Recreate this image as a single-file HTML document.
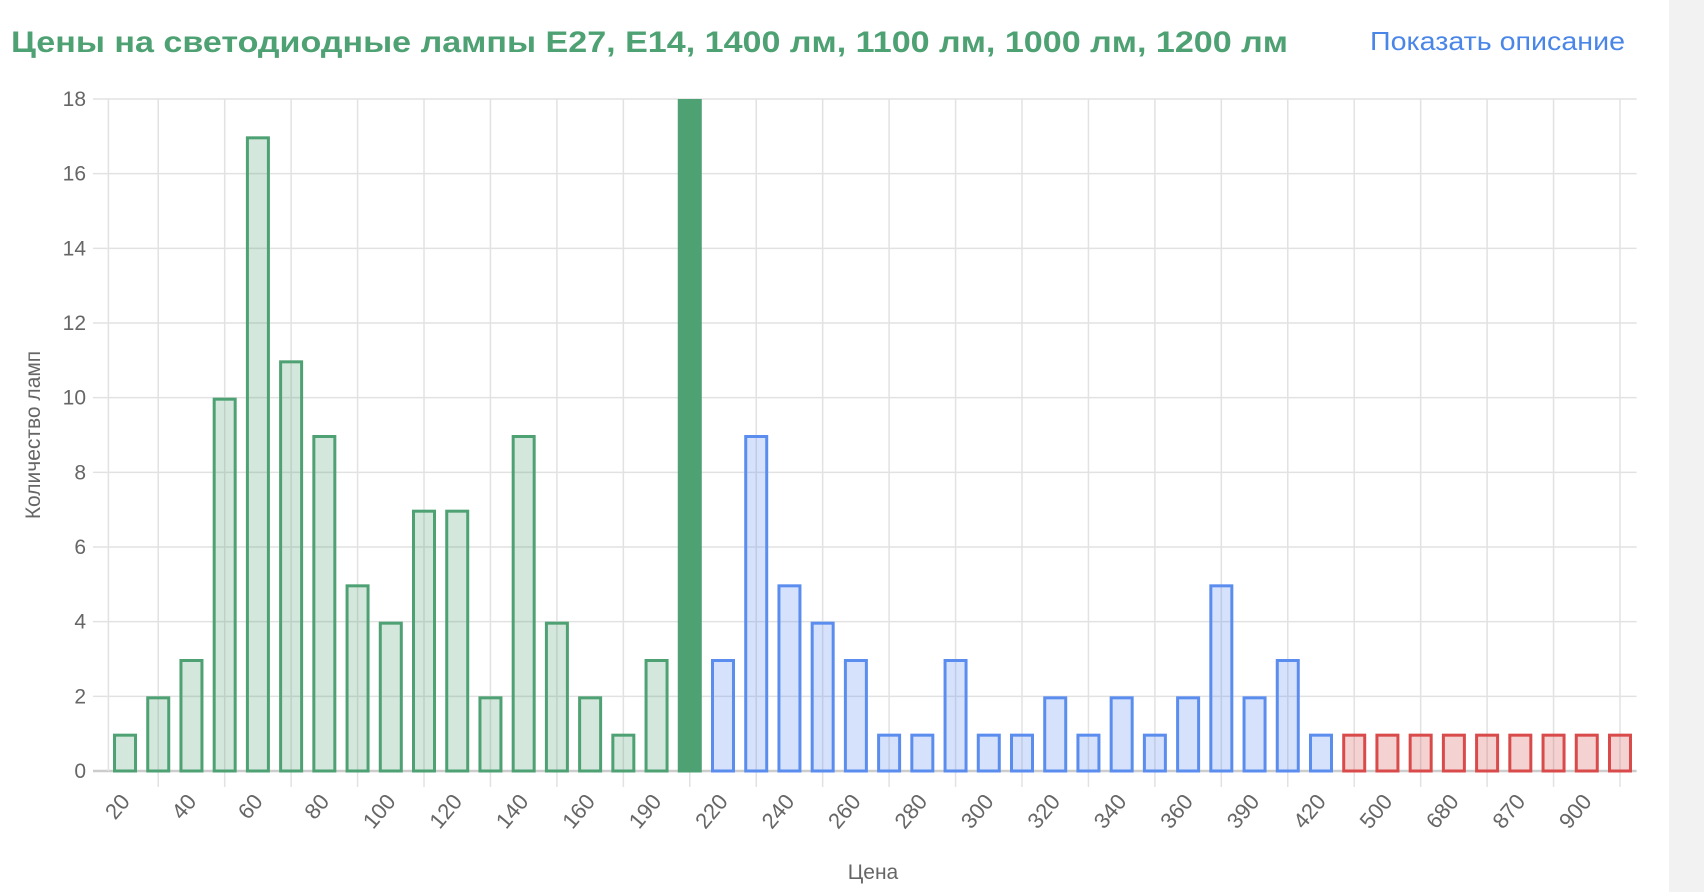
<!DOCTYPE html>
<html><head><meta charset="utf-8"><style>
html,body{margin:0;padding:0;background:#fff;}
body{width:1704px;height:892px;overflow:hidden;position:relative;font-family:"Liberation Sans",sans-serif;}
</style></head><body>
<div style="position:absolute;left:1669px;top:0;width:35px;height:892px;background:#f2f2f2"></div>
<svg width="1704" height="892" style="position:absolute;left:0;top:0" font-family="Liberation Sans, sans-serif">
<text x="11" y="52" font-size="30" font-weight="bold" fill="#4ea173" textLength="1277" lengthAdjust="spacingAndGlyphs">Цены на светодиодные лампы E27, E14, 1400 лм, 1100 лм, 1000 лм, 1200 лм</text>
<text x="1370" y="50" font-size="26" fill="#4a86e8" textLength="255" lengthAdjust="spacingAndGlyphs">Показать описание</text>
<g id="g"></g>
<text x="873" y="879" font-size="21" fill="#666" text-anchor="middle">Цена</text>
<text transform="translate(40,435) rotate(-90)" font-size="21" fill="#666" text-anchor="middle">Количество ламп</text>
</svg>
<script>
var vals=[1,2,3,10,17,11,9,5,4,7,7,2,9,4,2,1,3,18,3,9,5,4,3,1,1,3,1,1,2,1,2,1,2,5,2,3,1,1,1,1,1,1,1,1,1,1];
var labels=["20","40","60","80","100","120","140","160","190","220","240","260","280","300","320","340","360","390","420","500","680","870","900"];
var L=108.4,R=1636.6,Y0=771,Y18=99,sp=(R-L)/46,u=(Y0-Y18)/18;
var s='';
for(var k=0;k<=18;k+=2){var y=Y0-k*u;s+='<line x1="93" x2="'+R+'" y1="'+y+'" y2="'+y+'" stroke="'+(k==0?'#ccc':'#e2e2e2')+'" stroke-width="'+(k==0?2.5:1.5)+'"/>';
s+='<text x="86" y="'+(y+7)+'" font-size="21" fill="#666" text-anchor="end">'+k+'</text>';}
s+='<line x1="'+L+'" x2="'+L+'" y1="'+Y18+'" y2="'+Y0+'" stroke="#e2e2e2" stroke-width="1.5"/>';
for(var i=1;i<46;i+=2){var x=L+sp*(i+0.5);s+='<line x1="'+x+'" x2="'+x+'" y1="'+Y18+'" y2="787" stroke="#e2e2e2" stroke-width="1.5"/>';}
for(var i=0;i<46;i++){var cx=L+sp*(i+0.5),h=vals[i]*u,w=21;
var st,fi;if(i==17){st='#4ea173';fi='#4ea173';}else if(i<17){st='#4ea173';fi='rgba(78,161,115,0.25)';}else if(i<37){st='#5b8def';fi='rgba(91,141,239,0.25)';}else{st='#d94a4a';fi='rgba(217,74,74,0.25)';}
s+='<rect x="'+(cx-w/2)+'" y="'+(Y0-h+1.5)+'" width="'+w+'" height="'+(h-1.5)+'" fill="'+fi+'" stroke="'+st+'" stroke-width="3"/>';}
for(var j=0;j<labels.length;j++){var cx=L+sp*(2*j+0.5)+6;
s+='<text transform="translate('+cx+',802) rotate(-50)" font-size="22" fill="#666" text-anchor="end">'+labels[j]+'</text>';}
document.getElementById('g').innerHTML=s;
</script>
</body></html>
